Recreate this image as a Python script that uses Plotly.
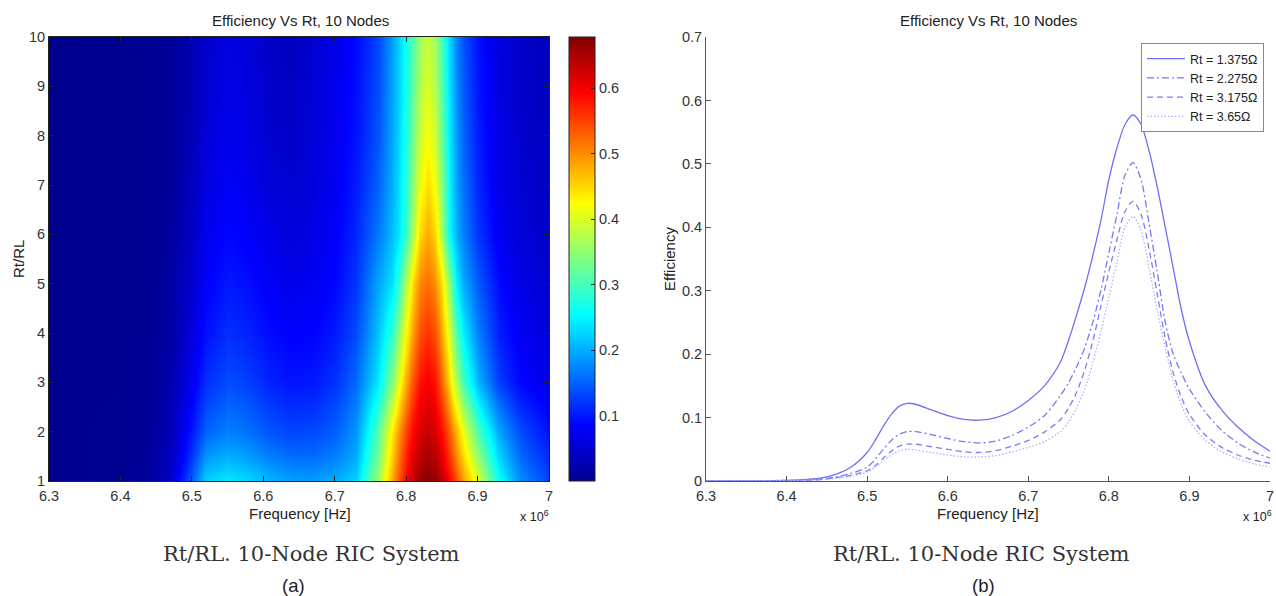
import plotly.graph_objects as go

# ---------------- Left panel: efficiency map vs frequency and Rt/RL ----------------
heat_freq = [6.30, 6.40, 6.44, 6.47, 6.50, 6.52, 6.55, 6.58, 6.61, 6.64, 6.67, 6.70, 6.73,
             6.76, 6.78, 6.79, 6.80, 6.81, 6.82, 6.83, 6.84, 6.85, 6.86, 6.87, 6.88,
             6.90, 6.93, 6.96, 7.00]
heat_ratio = [1, 1.5, 2, 3, 4, 5, 6, 7, 8, 9, 10]

eff_r1 = [0.000, 0.002, 0.010, 0.045, 0.150, 0.225, 0.240, 0.228, 0.205, 0.192, 0.190, 0.200, 0.225,
          0.360, 0.480, 0.540, 0.593, 0.635, 0.662, 0.675, 0.665, 0.635, 0.593, 0.545, 0.490,
          0.400, 0.260, 0.180, 0.130]
eff_r1_5 = [0.000, 0.002, 0.008, 0.036, 0.120, 0.185, 0.200, 0.188, 0.168, 0.156, 0.156, 0.168, 0.200,
            0.330, 0.455, 0.515, 0.570, 0.612, 0.638, 0.650, 0.640, 0.608, 0.560, 0.505, 0.450,
            0.350, 0.225, 0.155, 0.110]
eff_r2 = [0.000, 0.002, 0.007, 0.030, 0.100, 0.150, 0.170, 0.160, 0.140, 0.130, 0.132, 0.148, 0.185,
          0.310, 0.435, 0.495, 0.550, 0.592, 0.620, 0.630, 0.618, 0.585, 0.535, 0.475, 0.415,
          0.305, 0.195, 0.135, 0.095]
eff_r3 = [0.000, 0.001, 0.005, 0.021, 0.075, 0.115, 0.135, 0.125, 0.107, 0.097, 0.100, 0.118, 0.155,
          0.240, 0.340, 0.410, 0.480, 0.540, 0.583, 0.600, 0.580, 0.525, 0.450, 0.370, 0.300,
          0.205, 0.125, 0.088, 0.065]
eff_r4 = [0.000, 0.001, 0.004, 0.016, 0.060, 0.095, 0.115, 0.106, 0.090, 0.082, 0.085, 0.100, 0.135,
          0.215, 0.285, 0.350, 0.425, 0.490, 0.540, 0.560, 0.540, 0.480, 0.400, 0.310, 0.245,
          0.170, 0.105, 0.075, 0.055]
eff_r5 = [0.000, 0.001, 0.003, 0.013, 0.050, 0.082, 0.100, 0.092, 0.078, 0.070, 0.074, 0.088, 0.120,
          0.195, 0.235, 0.290, 0.370, 0.450, 0.505, 0.520, 0.500, 0.440, 0.350, 0.250, 0.200,
          0.145, 0.090, 0.065, 0.050]
eff_r6 = [0.000, 0.001, 0.003, 0.011, 0.042, 0.072, 0.088, 0.080, 0.066, 0.058, 0.065, 0.080, 0.110,
          0.165, 0.210, 0.240, 0.290, 0.370, 0.450, 0.480, 0.450, 0.360, 0.260, 0.205, 0.170,
          0.120, 0.075, 0.055, 0.042]
eff_r7 = [0.000, 0.001, 0.002, 0.009, 0.036, 0.063, 0.078, 0.070, 0.055, 0.049, 0.059, 0.075, 0.102,
          0.150, 0.200, 0.235, 0.280, 0.345, 0.415, 0.445, 0.415, 0.340, 0.255, 0.195, 0.160,
          0.110, 0.068, 0.050, 0.039]
eff_r8 = [0.000, 0.001, 0.002, 0.008, 0.031, 0.056, 0.071, 0.064, 0.048, 0.043, 0.055, 0.072, 0.096,
          0.140, 0.195, 0.230, 0.272, 0.330, 0.390, 0.420, 0.390, 0.320, 0.245, 0.190, 0.152,
          0.103, 0.064, 0.047, 0.037]
eff_r9 = [0.000, 0.001, 0.002, 0.007, 0.028, 0.050, 0.066, 0.059, 0.044, 0.040, 0.052, 0.070, 0.093,
          0.135, 0.192, 0.227, 0.268, 0.318, 0.372, 0.400, 0.372, 0.310, 0.238, 0.182, 0.146,
          0.098, 0.062, 0.046, 0.036]
eff_r10 = [0.000, 0.001, 0.002, 0.006, 0.025, 0.045, 0.062, 0.055, 0.042, 0.038, 0.050, 0.068, 0.090,
           0.130, 0.190, 0.225, 0.265, 0.310, 0.360, 0.385, 0.360, 0.300, 0.230, 0.175, 0.140,
           0.095, 0.060, 0.045, 0.035]
heat_eff = [eff_r1, eff_r1_5, eff_r2, eff_r3, eff_r4, eff_r5, eff_r6, eff_r7, eff_r8, eff_r9, eff_r10]

colorbar_ticks = [0.1, 0.2, 0.3, 0.4, 0.5, 0.6]

# ---------------- Right panel: efficiency curves for four Rt values ----------------
line_freq = [6.30, 6.35, 6.40, 6.42, 6.44, 6.46, 6.48,
             6.50, 6.51, 6.52, 6.53, 6.54, 6.55, 6.56,
             6.58, 6.60, 6.62, 6.64, 6.66, 6.68, 6.70,
             6.72, 6.74, 6.75, 6.76, 6.77, 6.78, 6.79,
             6.80, 6.81, 6.82, 6.83, 6.84, 6.85, 6.86,
             6.87, 6.88, 6.89, 6.90, 6.92, 6.94, 6.96,
             6.98, 7.00]
eff_rt_1375 = [0.000, 0.000, 0.001, 0.002, 0.004, 0.010, 0.022,
               0.045, 0.064, 0.086, 0.105, 0.118, 0.1225, 0.121,
               0.112, 0.103, 0.097, 0.096, 0.100, 0.110, 0.127,
               0.150, 0.188, 0.222, 0.262, 0.305, 0.355, 0.410,
               0.475, 0.525, 0.562, 0.577, 0.562, 0.520, 0.464,
               0.400, 0.335, 0.270, 0.220, 0.150, 0.112, 0.085,
               0.064, 0.047]
eff_rt_2275 = [0.000, 0.000, 0.001, 0.001, 0.003, 0.006, 0.012,
               0.022, 0.034, 0.050, 0.064, 0.074, 0.078, 0.078,
               0.073, 0.067, 0.062, 0.060, 0.063, 0.072, 0.085,
               0.103, 0.135, 0.155, 0.180, 0.210, 0.250, 0.300,
               0.360, 0.420, 0.482, 0.502, 0.475, 0.405, 0.330,
               0.250, 0.200, 0.170, 0.145, 0.108, 0.080, 0.060,
               0.046, 0.036]
eff_rt_3175 = [0.000, 0.000, 0.0005, 0.001, 0.002, 0.005, 0.009,
               0.016, 0.024, 0.036, 0.047, 0.055, 0.058, 0.058,
               0.054, 0.050, 0.046, 0.045, 0.048, 0.055, 0.064,
               0.077, 0.097, 0.115, 0.140, 0.175, 0.220, 0.275,
               0.330, 0.380, 0.425, 0.441, 0.420, 0.365, 0.295,
               0.225, 0.170, 0.132, 0.105, 0.072, 0.053, 0.041,
               0.033, 0.028]
eff_rt_365 = [0.000, 0.000, 0.0005, 0.001, 0.002, 0.004, 0.007,
              0.014, 0.022, 0.032, 0.041, 0.048, 0.050, 0.049,
              0.045, 0.041, 0.038, 0.038, 0.040, 0.046, 0.053,
              0.062, 0.078, 0.093, 0.115, 0.145, 0.185, 0.235,
              0.290, 0.345, 0.400, 0.417, 0.395, 0.335, 0.270,
              0.210, 0.158, 0.120, 0.094, 0.064, 0.046, 0.035,
              0.027, 0.022]
series = [eff_rt_1375, eff_rt_2275, eff_rt_3175, eff_rt_365]
legend_labels = ["Rt = 1.375Ω", "Rt = 2.275Ω", "Rt = 3.175Ω", "Rt = 3.65Ω"]

freq_ticks = [6.3, 6.4, 6.5, 6.6, 6.7, 6.8, 6.9, 7.0]
freq_tick_text = ["6.3", "6.4", "6.5", "6.6", "6.7", "6.8", "6.9", "7"]
ratio_ticks = [1, 2, 3, 4, 5, 6, 7, 8, 9, 10]
eff_ticks = [0, 0.1, 0.2, 0.3, 0.4, 0.5, 0.6, 0.7]
eff_tick_text = ["0", "0.1", "0.2", "0.3", "0.4", "0.5", "0.6", "0.7"]

# ---------------- styling ----------------
W, H = 1276, 596
jet = [[0.0, "#00008f"], [0.125, "#0000ff"], [0.375, "#00ffff"],
       [0.625, "#ffff00"], [0.875, "#ff0000"], [1.0, "#800000"]]
line_color = ["rgb(112,112,245)", "rgb(120,120,245)", "rgb(125,125,245)", "rgb(175,175,252)"]
line_dash = ["solid", "7px,3px,2px,3px", "6px,4px", "1.5px,2px"]
sans = "Liberation Sans, Arial, sans-serif"
serif = "DejaVu Serif, serif"
tick_font = dict(family=sans, size=14.5, color="#333")


def px_x(x):
    return x / W


def px_y(y):
    return 1 - y / H


y_dom = [px_y(481), px_y(37)]

fig = go.Figure()
fig.add_trace(go.Heatmap(
    x=heat_freq, y=heat_ratio, z=heat_eff, zsmooth="best",
    colorscale=jet, zmin=0, zmax=0.678, xaxis="x", yaxis="y",
    colorbar=dict(x=px_x(569), xanchor="left", xpad=0, ypad=0,
                  y=px_y(259), yanchor="middle", len=444, lenmode="pixels",
                  thickness=26, thicknessmode="pixels",
                  tickvals=colorbar_ticks, ticks="inside", ticklen=4, tickcolor="#222",
                  outlinewidth=1, outlinecolor="#222", tickfont=tick_font),
    hoverinfo="skip", showlegend=False))

for vals, name, col, dash in zip(series, legend_labels, line_color, line_dash):
    fig.add_trace(go.Scatter(
        x=line_freq, y=vals, mode="lines", name=name, xaxis="x2", yaxis="y2",
        line=dict(color=col, width=1.3, dash=dash, shape="spline", smoothing=0.8)))

axis_common = dict(showgrid=False, zeroline=False, ticks="inside", ticklen=5,
                   tickfont=tick_font, showline=True, linewidth=1, automargin=False)

fig.update_layout(
    width=W, height=H, margin=dict(l=0, r=0, t=0, b=0, pad=0, autoexpand=False),
    paper_bgcolor="white", plot_bgcolor="white",
    xaxis=dict(domain=[px_x(49), px_x(549)], range=[6.3, 7.0], anchor="y",
               tickvals=freq_ticks, ticktext=freq_tick_text, mirror="ticks",
               linecolor="#222", tickcolor="#222", ticklabelstandoff=2, **axis_common),
    yaxis=dict(domain=y_dom, range=[1, 10], anchor="x", tickvals=ratio_ticks,
               mirror="ticks", linecolor="#222", tickcolor="#222", **axis_common),
    xaxis2=dict(domain=[px_x(706), px_x(1270)], range=[6.3, 7.0], anchor="y2",
                tickvals=freq_ticks, ticktext=freq_tick_text, ticklabelstandoff=2,
                linecolor="#555", tickcolor="#555", **axis_common),
    yaxis2=dict(domain=y_dom, range=[0, 0.7], anchor="x2", tickvals=eff_ticks,
                ticktext=eff_tick_text, linecolor="#555", tickcolor="#555", **axis_common),
    showlegend=True,
    legend=dict(x=px_x(1141), y=px_y(43), xanchor="left", yanchor="top",
                bgcolor="white", bordercolor="#888", borderwidth=1, itemwidth=38,
                font=dict(family=sans, size=12.5, color="#222"), tracegroupgap=0),
)

ann = []
for cx in (300, 988):
    ann.append(dict(x=px_x(cx), y=px_y(21), text="Efficiency Vs Rt, 10 Nodes",
                    font=dict(family=sans, size=15, color="#222")))
    ann.append(dict(x=px_x(cx), y=px_y(513), text="Frequency [Hz]",
                    font=dict(family=sans, size=15, color="#222")))
ann.append(dict(x=px_x(534), y=px_y(516), text="x 10<sup>6</sup>",
                font=dict(family=sans, size=12.5, color="#222")))
ann.append(dict(x=px_x(1257), y=px_y(516), text="x 10<sup>6</sup>",
                font=dict(family=sans, size=12.5, color="#222")))
ann.append(dict(x=px_x(18), y=px_y(259), text="Rt/RL", textangle=-90,
                font=dict(family=sans, size=15, color="#222")))
ann.append(dict(x=px_x(669), y=px_y(259), text="Efficiency", textangle=-90,
                font=dict(family=sans, size=15, color="#222")))
ann.append(dict(x=px_x(311), y=px_y(554), text="Rt/RL. 10-Node RIC System",
                font=dict(family=serif, size=21, color="#333")))
ann.append(dict(x=px_x(981), y=px_y(554), text="Rt/RL. 10-Node RIC System",
                font=dict(family=serif, size=21, color="#333")))
ann.append(dict(x=px_x(293), y=px_y(585), text="(a)",
                font=dict(family=sans, size=18.5, color="#222")))
ann.append(dict(x=px_x(983), y=px_y(585), text="(b)",
                font=dict(family=sans, size=18.5, color="#222")))
for a in ann:
    a.update(xref="paper", yref="paper", xanchor="center", yanchor="middle", showarrow=False)
fig.update_layout(annotations=ann)

# remove the browser's default 8px page margin so the figure fills the window exactly
fig.write_html("out.html", config={"displayModeBar": False},
               post_script="document.body.style.margin='0';document.body.style.overflow='hidden';")
